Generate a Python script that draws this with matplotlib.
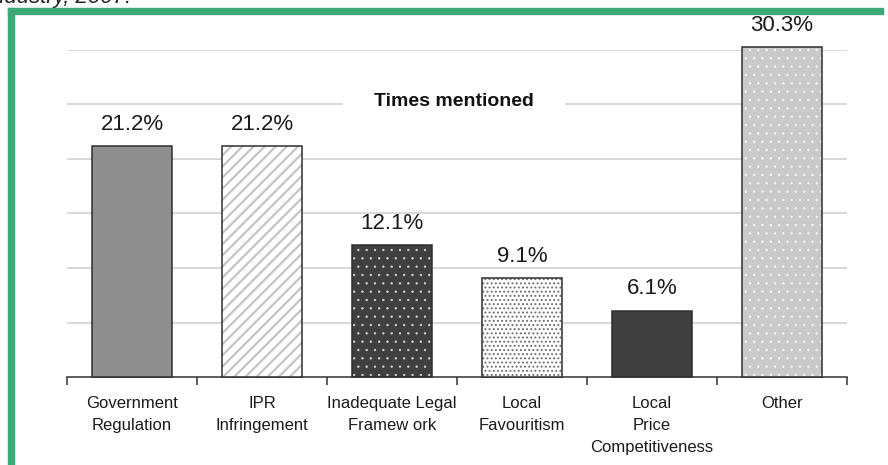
import matplotlib.pyplot as plt
import matplotlib.patches as mpatches

# data
categories = ['Government\nRegulation', 'IPR\nInfringement', 'Inadequate Legal\nFramew ork',
              'Local\nFavouritism', 'Local\nPrice\nCompetitiveness', 'Other']
shares = [21.2, 21.2, 12.1, 9.1, 6.1, 30.3]
value_labels = ['21.2%', '21.2%', '12.1%', '9.1%', '6.1%', '30.3%']
grid_ticks = [5, 10, 15, 20, 25, 30]

# bar styles: face, hatch, hatch colour, hatch line width
faces = ['#8e8e8e', 'white', '#404040', 'white', '#404040', '#c9c9c9']
hatches = [None, '///', '..', '....', None, '..']
hatch_cols = [None, '#c4c4c4', '#d0d0d0', '#6e6e6e', None, '#f6f6f6']
hatch_lw = [1.0, 1.6, 0.5, 0.9, 1.0, 0.5]

plt.rcParams['font.family'] = ['Liberation Sans', 'DejaVu Sans']

fig = plt.figure(figsize=(8.88, 4.65), dpi=100)
ax = fig.add_axes([67 / 888, 1 - 377 / 465, 780 / 888, 327 / 465])

x = list(range(len(shares)))
for i, v in enumerate(shares):
    if hatches[i]:
        with plt.rc_context({'hatch.linewidth': hatch_lw[i]}):
            ax.bar(i, v, width=0.62, color=faces[i], edgecolor=hatch_cols[i],
                   hatch=hatches[i], linewidth=0, zorder=3, clip_on=False)
        ax.bar(i, v, width=0.62, fill=False, edgecolor='#2e2e2e',
               linewidth=1.1, zorder=4, clip_on=False)
    else:
        ax.bar(i, v, width=0.62, color=faces[i], edgecolor='#2e2e2e',
               linewidth=1.1, zorder=3, clip_on=False)
    ax.annotate(value_labels[i], (i, v), xytext=(0, 8), textcoords='offset points',
                ha='center', va='bottom', fontsize=16, color='#1a1a1a',
                annotation_clip=False)

ax.set_xlim(-0.5, 5.5)
ax.set_ylim(0, 30)
ax.set_yticks(grid_ticks)
ax.yaxis.grid(True, color='#d9d9d9', linewidth=1.5, zorder=0)
ax.tick_params(axis='y', length=0, labelleft=False)
for s in ['left', 'right', 'top']:
    ax.spines[s].set_visible(False)
ax.spines['bottom'].set_color('#333333')
ax.spines['bottom'].set_linewidth(1.1)

ax.set_xticks(x)
ax.set_xticklabels(categories, fontsize=12, color='#1a1a1a', linespacing=1.55)
ax.set_xticks([i - 0.5 for i in range(len(shares) + 1)], minor=True)
ax.tick_params(axis='x', which='major', length=0, pad=14)
ax.tick_params(axis='x', which='minor', length=6, width=1.1, color='#333333', direction='out')

ax.text(2.48, 25.3, 'Times mentioned', ha='center', va='center',
        fontsize=14, fontweight='bold', color='#111111', zorder=5,
        bbox=dict(boxstyle='square,pad=1.6', facecolor='white', edgecolor='none'))

# green frame (left and top) and cut-off caption above it
green = '#3da777'
fig.patches.append(mpatches.Rectangle((8 / 888, 0), 6 / 888, 1 - 8 / 465,
                                      transform=fig.transFigure, color=green, zorder=10))
fig.patches.append(mpatches.Rectangle((8 / 888, 1 - 14 / 465), 875 / 888, 6 / 465,
                                      transform=fig.transFigure, color=green, zorder=10))
fig.text(-8 / 888, 1 - 3 / 465, 'ndustry, 2007.', ha='left', va='baseline',
         fontsize=16, fontstyle='italic', color='#222222')

fig.savefig('out.png', dpi=100)
